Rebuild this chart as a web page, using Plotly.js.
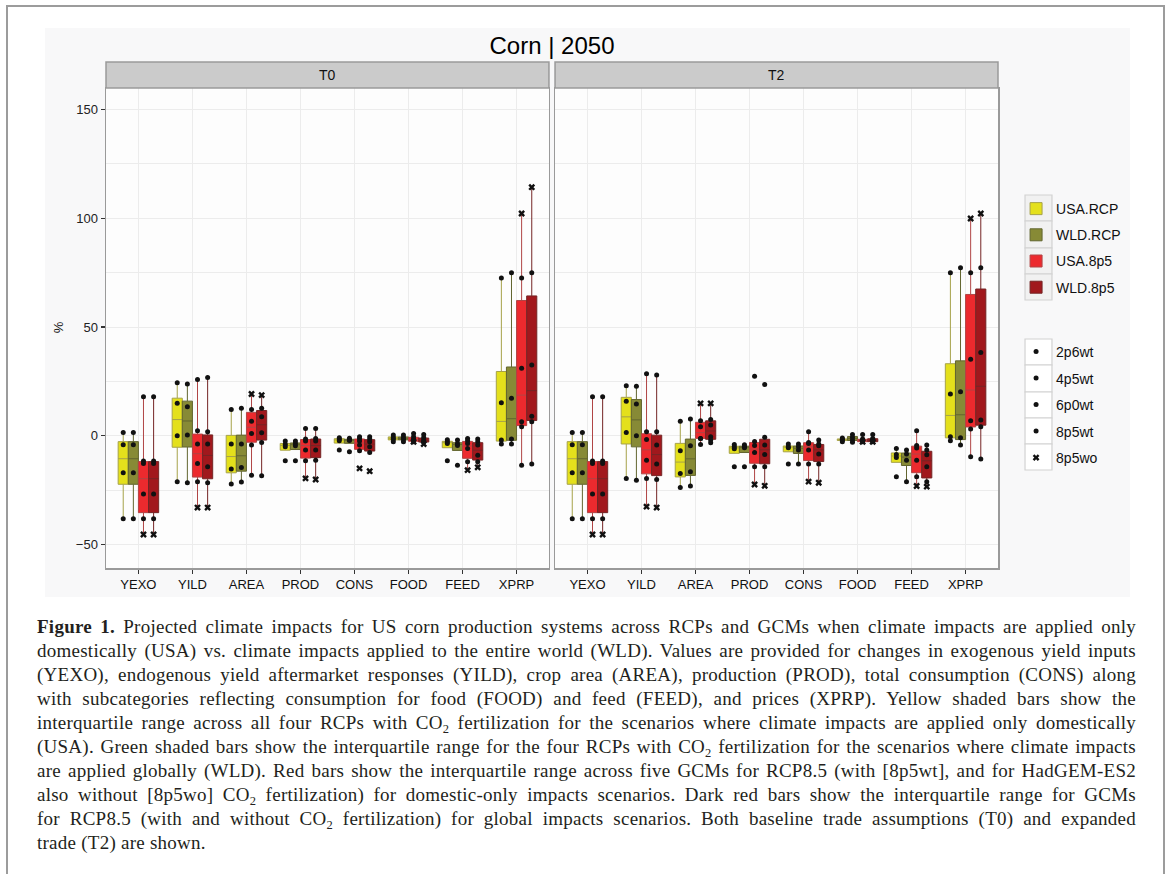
<!DOCTYPE html>
<html><head><meta charset="utf-8">
<script src="https://cdn.plot.ly/plotly-3.0.1.min.js"></script>
<style>
html,body{margin:0;padding:0;background:#fff;}
body{width:1171px;height:874px;overflow:hidden;position:relative;}
#frame{position:absolute;left:6px;top:5px;width:1155px;height:900px;border:2px solid #9c9c9c;border-bottom:none;}
#chart{position:absolute;left:45px;top:28px;width:1085px;height:569px;}
#caption{position:absolute;left:37px;top:615px;width:1099px;font-family:'Liberation Serif','DejaVu Serif',serif;font-size:19px;letter-spacing:0.25px;line-height:24px;color:#231f20;}
#caption .l{text-align:justify;text-align-last:justify;white-space:nowrap;}
#caption .last{text-align:left;white-space:nowrap;}
#caption sub{font-size:12.5px;line-height:0;vertical-align:-4px;}
</style></head>
<body>
<div id="frame"></div>
<div id="chart"></div>
<div id="caption">
<div class="l"><b>Figure 1.</b> Projected climate impacts for US corn production systems across RCPs and GCMs when climate impacts are applied only</div>
<div class="l">domestically (USA) vs. climate impacts applied to the entire world (WLD). Values are provided for changes in exogenous yield inputs</div>
<div class="l">(YEXO), endogenous yield aftermarket responses (YILD), crop area (AREA), production (PROD), total consumption (CONS) along</div>
<div class="l">with subcategories reflecting consumption for food (FOOD) and feed (FEED), and prices (XPRP). Yellow shaded bars show the</div>
<div class="l">interquartile range across all four RCPs with CO<sub>2</sub> fertilization for the scenarios where climate impacts are applied only domestically</div>
<div class="l">(USA). Green shaded bars show the interquartile range for the four RCPs with CO<sub>2</sub> fertilization for the scenarios where climate impacts</div>
<div class="l">are applied globally (WLD). Red bars show the interquartile range across five GCMs for RCP8.5 (with [8p5wt], and for HadGEM-ES2</div>
<div class="l">also without [8p5wo] CO<sub>2</sub> fertilization) for domestic-only impacts scenarios. Dark red bars show the interquartile range for GCMs</div>
<div class="l">for RCP8.5 (with and without CO<sub>2</sub> fertilization) for global impacts scenarios. Both baseline trade assumptions (T0) and expanded</div>
<div class="last">trade (T2) are shown.</div>
</div>
<script>
// ---------------- DATA (values in %) ----------------
const categories = ['YEXO','YILD','AREA','PROD','CONS','FOOD','FEED','XPRP'];
const panels = ['T0','T2'];
const groupNames = ['USA.RCP','WLD.RCP','USA.8p5','WLD.8p5'];
const rcpScenarios = ['2p6wt','4p5wt','6p0wt','8p5wt'];
const shapeLegend = ['2p6wt','4p5wt','6p0wt','8p5wt','8p5wo'];

// RCP groups: one row per category, columns = 2p6wt, 4p5wt, 6p0wt, 8p5wt
const T0_USA_RCP = [[1.5,-4.1,-17.0,-38.2],[24.4,14.9,0.0,-21.1],[12.1,-3.8,-15.3,-22.2],[-2.4,-3.9,-5.0,-11.5],[-0.9,-1.5,-2.3,-6.6],[0.3,-0.8,-1.6,-2.8],[-1.8,-2.8,-3.5,-11.5],[-3.8,-2.0,15.2,72.6]];
const T0_WLD_RCP = [[1.5,-4.1,-17.0,-38.2],[23.8,13.3,0.3,-21.6],[12.6,-3.8,-14.6,-21.3],[-2.4,-3.6,-4.6,-11.5],[-1.1,-1.8,-2.2,-7.3],[0.3,-0.8,-1.6,-2.8],[-2.0,-3.6,-4.5,-13.5],[-3.8,-1.5,17.2,74.9]];
const T2_USA_RCP = [[1.5,-4.1,-17.0,-38.2],[23.0,15.9,1.5,-19.6],[6.7,-6.9,-17.3,-23.8],[-4.0,-5.1,-6.0,-14.3],[-3.8,-5.0,-5.5,-13.0],[-1.0,-1.6,-2.0,-2.7],[-5.8,-8.6,-10.0,-18.9],[-2.3,-0.5,19.2,74.9]];
const T2_WLD_RCP = [[1.5,-4.1,-17.0,-38.2],[22.8,14.6,0.0,-20.4],[7.7,-4.6,-16.6,-23.1],[-4.1,-5.0,-5.5,-14.3],[-3.8,-5.0,-6.5,-13.0],[0.6,-0.7,-1.9,-3.0],[-6.6,-8.4,-11.2,-21.1],[-4.3,-0.9,20.2,77.2]];

// RCP8.5 groups: five GCMs with CO2 fertilization (8p5wt) per category
const T0_USA_8P5_WT = [[17.9,-11.6,-12.7,-26.8,-38.2],[25.9,2.3,-3.8,-12.7,-21.1],[12.1,6.7,1.1,-4.3,-18.1],[3.4,-1.5,-2.4,-6.6,-11.5],[-0.4,-1.2,-2.4,-4.3,-6.9],[1.0,-0.4,-1.5,-2.0,-2.7],[-1.2,-2.3,-3.5,-5.8,-11.9],[72.6,31.0,6.4,4.1,-13.5]];
const T0_WLD_8P5_WT = [[17.9,-11.6,-12.7,-26.8,-38.2],[26.8,1.8,-3.8,-14.3,-21.6],[12.6,8.7,1.4,-3.1,-18.4],[3.4,-1.2,-2.4,-6.6,-11.2],[-0.4,-1.5,-2.7,-5.0,-7.7],[0.6,-0.8,-1.8,-2.5,-3.0],[-1.5,-2.8,-4.3,-9.0,-11.9],[74.9,32.5,9.0,6.4,-13.0]];
const T2_USA_8P5_WT = [[17.9,-11.6,-12.7,-26.8,-38.2],[28.5,1.8,-1.7,-11.2,-19.6],[6.9,4.1,-1.2,-1.2,-4.0],[27.4,-2.6,-4.5,-7.7,-14.3],[1.8,-3.1,-3.5,-6.6,-13.0],[0.6,-1.5,-2.0,-2.4,-2.8],[2.3,-4.5,-5.6,-11.2,-18.9],[74.9,35.2,6.9,3.1,-9.7]];
const T2_WLD_8P5_WT = [[17.9,-11.6,-12.7,-26.8,-38.2],[27.9,1.8,-4.3,-13.0,-20.1],[7.5,4.9,-0.5,-2.0,-3.2],[23.6,-0.7,-4.3,-8.6,-14.3],[-2.0,-3.8,-4.6,-8.4,-13.0],[0.6,-1.2,-1.8,-2.4,-2.8],[-4.3,-6.6,-8.7,-14.3,-21.1],[77.2,38.3,7.2,4.1,-10.7]];

// RCP8.5 HadGEM-ES2 without CO2 fertilization (8p5wo), one value per category
const T0_USA_8P5_WO = [-45.4,-33.0,19.2,-19.6,-15.0,-2.8,-15.8,102.2];
const T0_WLD_8P5_WO = [-45.4,-33.0,18.7,-20.1,-16.3,-3.8,-14.5,114.3];
const T2_USA_8P5_WO = [-45.4,-32.6,14.9,-22.4,-21.1,-2.8,-23.1,99.9];
const T2_WLD_8P5_WO = [-45.4,-33.0,14.9,-23.0,-21.6,-2.8,-23.4,102.2];

// ---------------- STYLE ----------------
const fills = ['#e4e01c','#878a36','#ec2a2e','#a1181d'];
const lines = ['#a6a24a','#62652f','#b04545','#742525'];
const boxW = 0.75/4;
const offsets = [-1.5*boxW,-0.5*boxW,0.5*boxW,1.5*boxW];

const panelData = [
  {rcp:[T0_USA_RCP,T0_WLD_RCP], wt:[T0_USA_8P5_WT,T0_WLD_8P5_WT], wo:[T0_USA_8P5_WO,T0_WLD_8P5_WO], xa:'x', ya:'y'},
  {rcp:[T2_USA_RCP,T2_WLD_RCP], wt:[T2_USA_8P5_WT,T2_WLD_8P5_WT], wo:[T2_USA_8P5_WO,T2_WLD_8P5_WO], xa:'x2', ya:'y2'}
];

function quant(s,p){const h=(s.length-1)*p,lo=Math.floor(h),hi=Math.ceil(h);return s[lo]+(h-lo)*(s[hi]-s[lo]);}
function stats(vals){
  const s=vals.slice().sort((a,b)=>a-b);
  const q1=quant(s,0.25),md=quant(s,0.5),q3=quant(s,0.75),iqr=q3-q1;
  const lf=Math.min(...s.filter(v=>v>=q1-1.5*iqr)), uf=Math.max(...s.filter(v=>v<=q3+1.5*iqr));
  return {q1,md,q3,lf,uf};
}

const traces=[];
panelData.forEach((P,pi)=>{
  groupNames.forEach((g,gi)=>{
    const vals = categories.map((c,ci)=> gi<2 ? P.rcp[gi][ci] : P.wt[gi-2][ci].concat([P.wo[gi-2][ci]]));
    const st = vals.map(stats);
    traces.push({
      type:'box', name:g, legend:'legend', legendgroup:g, showlegend:pi===0,
      xaxis:P.xa, yaxis:P.ya,
      x: categories.map((c,ci)=>ci+offsets[gi]),
      q1: st.map(s=>s.q1), median: st.map(s=>s.md), q3: st.map(s=>s.q3),
      lowerfence: st.map(s=>s.lf), upperfence: st.map(s=>s.uf),
      width: boxW, whiskerwidth:0, boxpoints:false,
      fillcolor: fills[gi], line:{color:lines[gi], width:1}, hoverinfo:'skip'
    });
  });
  shapeLegend.forEach((sc,si)=>{
    const xs=[],ys=[];
    categories.forEach((c,ci)=>{
      if(si<4){ [0,1].forEach(gi=>{xs.push(ci+offsets[gi]); ys.push(P.rcp[gi][ci][si]);}); }
      if(sc==='8p5wt'){ [0,1].forEach(k=>{P.wt[k][ci].forEach(v=>{xs.push(ci+offsets[k+2]); ys.push(v);});}); }
      if(sc==='8p5wo'){ [0,1].forEach(k=>{xs.push(ci+offsets[k+2]); ys.push(P.wo[k][ci]);}); }
    });
    traces.push({
      type:'scatter', mode:'markers', name:sc, legend:'legend2', legendgroup:'s_'+sc, showlegend:pi===0,
      xaxis:P.xa, yaxis:P.ya, x:xs, y:ys, hoverinfo:'skip',
      marker: sc==='8p5wo' ? {symbol:'x', size:6, color:'#111'} : {symbol:'circle', size:5, color:'#111'}
    });
  });
});

const grid='#ececec', border='#9a9a9a';
const d1=[0,0.4966], d2=[0.5034,1], yd=[0,0.9486];
const xCommon = {range:[-0.6,7.6], tickvals:categories.map((c,i)=>i), ticktext:categories, showgrid:true, gridcolor:grid, zeroline:false,
  showline:true, mirror:true, linecolor:border, linewidth:1.5, ticks:'outside', ticklen:4, tickcolor:'#333', tickwidth:1.2,
  tickfont:{family:'Liberation Sans, Arial, sans-serif', size:13, color:'#111'}, fixedrange:true};
const yCommon = {range:[-60.8,159.9], tickvals:[-50,0,50,100,150], showgrid:true, gridcolor:grid, zeroline:false,
  minor:{dtick:25, tick0:0, showgrid:true, gridcolor:grid, ticks:''},
  showline:true, mirror:true, linecolor:border, linewidth:1.5, domain:yd, fixedrange:true};

// legend key frames (paper coords)
const keyX = [1.0303, 1.0605];
const key1Y = [0.7372,0.6858,0.6324,0.5810,0.5296];
const key2Y = [0.4526,0.4012,0.3478,0.2964,0.2451,0.1937];
const keyShapes = [];
for(let i=0;i<4;i++) keyShapes.push({type:'rect', xref:'paper', yref:'paper', x0:keyX[0], x1:keyX[1], y0:key1Y[i+1], y1:key1Y[i], fillcolor:'#f1f1f1', line:{color:'#d2d2d2', width:1.2}, layer:'below'});
for(let i=0;i<5;i++) keyShapes.push({type:'rect', xref:'paper', yref:'paper', x0:keyX[0], x1:keyX[1], y0:key2Y[i+1], y1:key2Y[i], fillcolor:'#ffffff', line:{color:'#d2d2d2', width:1.2}, layer:'below'});

const layout = {
  width:1085, height:569, margin:{l:61, r:132, t:34, b:29, autoexpand:false},
  paper_bgcolor:'#f8f8f9', plot_bgcolor:'#fdfdfd',
  font:{family:'Liberation Sans, Arial, sans-serif', color:'#111'},
  title:{text:'Corn | 2050', xref:'paper', x:0.5, xanchor:'center', yref:'container', y:0.9684, yanchor:'middle', font:{size:24, color:'#000'}},
  showlegend:true,
  xaxis:Object.assign({}, xCommon, {domain:d1, anchor:'y'}),
  xaxis2:Object.assign({}, xCommon, {domain:d2, anchor:'y2'}),
  yaxis:Object.assign({}, yCommon, {anchor:'x', ticks:'outside', ticklen:4, tickcolor:'#333', tickwidth:1.2, tickfont:{size:13, color:'#222'}}),
  yaxis2:Object.assign({}, yCommon, {anchor:'x2', matches:'y', showticklabels:false, ticks:''}),
  boxmode:'overlay',
  legend:{xref:'container', yref:'container', x:0.8950, y:0.7100, xanchor:'left', yanchor:'top', bgcolor:'rgba(0,0,0,0)', font:{size:14, color:'#111'}, traceorder:'grouped', tracegroupgap:5, itemclick:false, itemdoubleclick:false},
  legend2:{xref:'container', yref:'container', x:0.8950, y:0.4587, xanchor:'left', yanchor:'top', bgcolor:'rgba(0,0,0,0)', font:{size:14, color:'#111'}, traceorder:'grouped', tracegroupgap:5.3, itemclick:false, itemdoubleclick:false},
  shapes:[
    {type:'rect', xref:'paper', yref:'paper', x0:d1[0], x1:d1[1], y0:yd[1], y1:1, fillcolor:'#cbcbcb', line:{color:border, width:1.5}, layer:'above'},
    {type:'rect', xref:'paper', yref:'paper', x0:d2[0], x1:d2[1], y0:yd[1], y1:1, fillcolor:'#cbcbcb', line:{color:border, width:1.5}, layer:'above'}
  ].concat(keyShapes),
  annotations:[
    {text:'T0', xref:'paper', yref:'paper', x:(d1[0]+d1[1])/2, y:(yd[1]+1)/2, xanchor:'center', yanchor:'middle', showarrow:false, font:{size:14, color:'#111'}},
    {text:'T2', xref:'paper', yref:'paper', x:(d2[0]+d2[1])/2, y:(yd[1]+1)/2, xanchor:'center', yanchor:'middle', showarrow:false, font:{size:14, color:'#111'}},
    {text:'%', xref:'paper', yref:'paper', x:-0.0538, y:0.476, xanchor:'center', yanchor:'middle', textangle:-90, showarrow:false, font:{size:13, color:'#111'}}
  ]
};
Plotly.newPlot('chart', traces, layout, {displayModeBar:false, staticPlot:true});
</script>
</body></html>
